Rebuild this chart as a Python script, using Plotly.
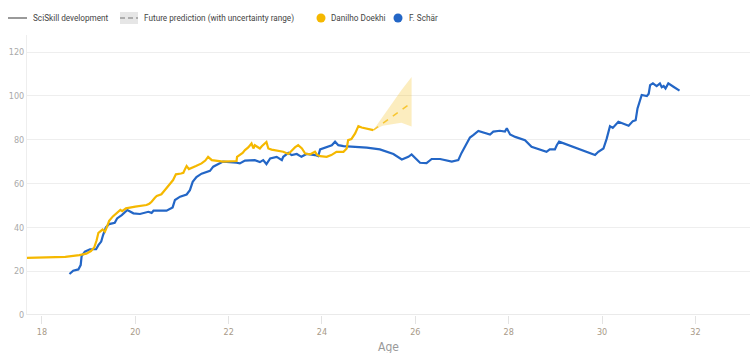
import plotly.graph_objects as go

# ---------------- data ----------------
danilho_age = [17.5, 18.0, 18.5, 18.8, 18.95, 19.05, 19.12, 19.17, 19.21, 19.3, 19.35, 19.38, 19.44,
               19.52, 19.6, 19.65, 19.68, 19.72, 19.8, 20.0, 20.24, 20.3, 20.35, 20.42, 20.46, 20.56,
               20.62, 20.67, 20.75, 20.81, 20.85, 20.87, 20.98, 21.03, 21.07, 21.1, 21.15, 21.22, 21.3,
               21.42, 21.5, 21.56, 21.64, 21.88, 22.17, 22.18, 22.3, 22.35, 22.42, 22.49, 22.53, 22.56,
               22.62, 22.67, 22.71, 22.78, 22.81, 22.85, 22.92, 23.17, 23.28, 23.35, 23.42, 23.49,
               23.57, 23.64, 23.74, 23.85, 23.9, 23.96, 24.1, 24.2, 24.31, 24.46, 24.53, 24.56, 24.63,
               24.71, 24.78, 24.85, 24.96, 25.1]
danilho_val = [26.0, 26.1, 26.5, 27.3, 28.0, 29.2, 30.8, 34.0, 37.5, 39.0, 38.0, 39.5, 43.0,
               45.0, 46.4, 47.3, 48.0, 47.4, 48.7, 49.5, 50.2, 50.8, 51.7, 53.5, 54.3, 55.1,
               56.5, 58.1, 60.0, 61.6, 63.5, 64.2, 64.6, 64.9, 66.8, 68.0, 66.6, 67.4, 68.0,
               69.2, 70.5, 72.2, 70.7, 70.0, 70.3, 72.2, 74.0, 75.3, 76.5, 78.3, 76.0, 77.5,
               76.8, 76.0, 77.0, 78.6, 79.0, 76.0, 75.5, 74.5, 73.5, 75.0, 76.5, 77.5,
               76.0, 73.7, 73.3, 74.5, 73.0, 72.5, 72.2, 73.0, 74.5, 74.5, 76.0, 79.8, 80.3,
               82.9, 86.2, 85.6, 85.2, 84.4]

pred_age = [25.1, 25.3, 25.5, 25.7, 25.92]
pred_mean = [84.4, 87.5, 90.6, 93.7, 96.9]
pred_upper = [84.4, 90.5, 96.6, 102.6, 108.6]
pred_lower = [84.4, 86.4, 87.1, 87.8, 86.0]

schar_age = [18.59, 18.67, 18.78, 18.83, 18.85, 18.92, 19.03, 19.16, 19.21, 19.27, 19.31, 19.37, 19.44,
             19.56, 19.61, 19.71, 19.83, 19.96, 20.1, 20.28, 20.35, 20.39, 20.67, 20.8, 20.85, 20.96,
             21.1, 21.17, 21.23, 21.31, 21.42, 21.6, 21.67, 21.88, 22.17, 22.24, 22.35, 22.56, 22.67,
             22.74, 22.81, 22.89, 23.03, 23.14, 23.17, 23.28, 23.35, 23.46, 23.56, 23.67, 23.85, 23.92,
             23.96, 24.1, 24.21, 24.28, 24.35, 24.46, 24.74, 24.96, 25.24, 25.53, 25.71, 25.78, 25.85,
             25.92, 26.01, 26.1, 26.24, 26.35, 26.53, 26.78, 26.92, 26.99, 27.1, 27.17, 27.24, 27.35,
             27.6, 27.67, 27.81, 27.92, 27.96, 28.03, 28.14, 28.35, 28.49, 28.67, 28.81, 28.88, 28.99,
             29.03, 29.08, 29.85, 29.92, 30.03, 30.1, 30.17, 30.23, 30.35, 30.57, 30.66, 30.72, 30.76,
             30.85, 30.96, 31.0, 31.03, 31.09, 31.17, 31.24, 31.28, 31.32, 31.36, 31.42, 31.53, 31.66]
schar_val = [18.7, 20.2, 20.8, 22.8, 26.9, 28.9, 30.0, 30.0, 31.9, 33.5, 36.5, 40.0, 41.5,
             42.1, 44.1, 45.6, 47.9, 46.4, 46.1, 47.1, 46.6, 47.6, 47.6, 49.1, 52.5, 54.0,
             55.0, 57.0, 60.8, 63.0, 64.5, 65.8, 67.7, 70.0, 69.5, 69.2, 70.5, 70.7, 69.8,
             70.7, 68.9, 71.5, 72.2, 70.7, 72.2, 74.0, 73.0, 73.5, 72.2, 73.5, 73.0, 72.5,
             75.6, 76.5, 77.5, 79.1, 77.5, 77.1, 76.8, 76.4, 75.6, 73.5, 71.0, 71.5, 72.2,
             73.3, 71.5, 69.5, 69.3, 71.2, 71.2, 70.0, 70.7, 74.0, 78.3, 81.0, 82.1, 84.0,
             82.4, 83.7, 84.1, 83.7, 85.2, 82.4, 81.3, 79.8, 76.8, 75.3, 74.5, 75.6, 75.6,
             77.5, 79.1, 73.0, 74.5, 76.0, 80.5, 86.2, 85.4, 88.2, 86.4, 88.5, 88.9, 94.3,
             100.4, 99.9, 101.0, 104.9, 105.7, 104.5, 105.7, 104.0, 104.5, 103.4, 105.7, 104.2, 102.4]

x_ticks = [18, 20, 22, 24, 26, 28, 30, 32]
y_ticks = [0, 20, 40, 60, 80, 100, 120]
legend_labels = ["SciSkill development", "Future prediction (with uncertainty range)",
                 "Danilho Doekhi", "F. Schär"]

# ---------------- style ----------------
YELLOW = "#F5B800"
BLUE = "#2366C6"
W, H = 750, 353
ML, MR, MT, MB = 27, 0, 35, 38
PW, PH = W - ML - MR, H - MT - MB
FONT = "DejaVu Sans Condensed, sans-serif"
LFONT = "Roboto, sans-serif"


def px(x):
    return (x - ML) / PW


def py(y):
    return (H - MB - y) / PH


fig = go.Figure()

# uncertainty band
fig.add_trace(go.Scatter(x=pred_age, y=pred_lower, mode="lines", line=dict(width=0),
                         hoverinfo="skip", showlegend=False))
fig.add_trace(go.Scatter(x=pred_age, y=pred_upper, mode="lines", line=dict(width=0),
                         fill="tonexty", fillcolor="rgba(245,184,0,0.25)",
                         hoverinfo="skip", showlegend=False))
fig.add_trace(go.Scatter(x=pred_age, y=pred_mean, mode="lines",
                         line=dict(color="rgba(245,184,0,0.75)", width=1.5, dash="6px,6px"),
                         showlegend=False))

fig.add_trace(go.Scatter(x=schar_age, y=schar_val, mode="lines",
                         line=dict(color=BLUE, width=2.2), showlegend=False))
fig.add_trace(go.Scatter(x=danilho_age, y=danilho_val, mode="lines",
                         line=dict(color=YELLOW, width=2.2), showlegend=False))

# ---------------- manual legend ----------------
shapes = []
ly = 18
shapes.append(dict(type="line", xref="paper", yref="paper", x0=px(8), x1=px(27), y0=py(ly), y1=py(ly),
                   line=dict(color="#9a9a9a", width=2)))
shapes.append(dict(type="rect", xref="paper", yref="paper", x0=px(120), x1=px(138), y0=py(12), y1=py(24),
                   fillcolor="#e6e6e6", line=dict(width=0)))
shapes.append(dict(type="line", xref="paper", yref="paper", x0=px(120), x1=px(138), y0=py(ly), y1=py(ly),
                   line=dict(color="#9a9a9a", width=1.5, dash="5px,3px")))
for cx, col in [(321, YELLOW), (398, BLUE)]:
    shapes.append(dict(type="circle", xref="paper", yref="paper", x0=px(cx - 4.5), x1=px(cx + 4.5),
                       y0=py(ly - 4.5), y1=py(ly + 4.5), fillcolor=col, line=dict(width=0)))

annotations = []
for lx, txt in zip([31, 142, 329, 407], legend_labels):
    annotations.append(dict(x=px(lx), y=py(ly), xref="paper", yref="paper", text=txt, showarrow=False,
                            xanchor="left", yanchor="middle", font=dict(family=LFONT, size=8.2, color="#444")))
annotations.append(dict(x=px(388), y=py(347), xref="paper", yref="paper", text="Age", showarrow=False,
                        xanchor="center", yanchor="middle", font=dict(family=FONT, size=12, color="#999")))

fig.update_layout(
    width=W, height=H,
    margin=dict(l=ML, r=MR, t=MT, b=MB, autoexpand=False),
    paper_bgcolor="white", plot_bgcolor="white",
    showlegend=False,
    shapes=shapes, annotations=annotations,
    xaxis=dict(range=[17.68, 33.17], tickvals=x_ticks, ticktext=[str(v) for v in x_ticks],
               showgrid=False, zeroline=False, showline=False,
               ticks="outside", ticklen=8, tickcolor="#e3e3e3", tickwidth=1,
               tickfont=dict(family=FONT, size=9, color="#a89a88"), fixedrange=True),
    yaxis=dict(range=[0, 127.8], tickvals=y_ticks, ticktext=[str(v) for v in y_ticks],
               showgrid=True, gridcolor="#eeeeee", gridwidth=1, zeroline=False,
               showline=True, linecolor="#eeeeee", linewidth=1,
               ticks="", tickfont=dict(family=FONT, size=9, color="#aaaaaa"), fixedrange=True),
)
# x axis baseline at 0
fig.add_hline(y=0, line=dict(color="#e3e3e3", width=1.5))

fig.write_html("out.html")
